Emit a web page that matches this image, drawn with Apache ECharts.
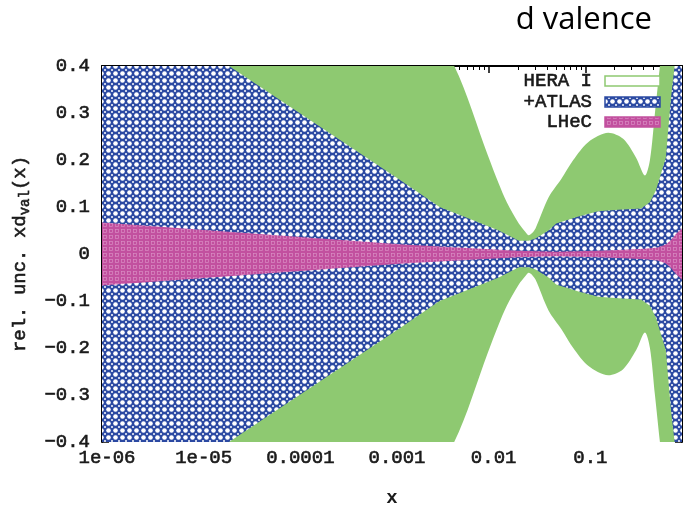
<!DOCTYPE html>
<html>
<head>
<meta charset="utf-8">
<script src="https://cdn.jsdelivr.net/npm/echarts@6/dist/echarts.min.js"></script>
<style>
  html, body { margin: 0; padding: 0; background: #fff; }
  #chart { width: 685px; height: 513px; }
</style>
</head>
<body>
<div id="chart"></div>
<script>
// Relative uncertainty of x*d_val(x): half-width of each error band versus x.
const heraX   = [1e-6, 1e-3, 4.4e-3, 0.0098, 0.0127, 0.0154, 0.0205, 0.024, 0.026, 0.028, 0.0306, 0.0416, 0.0566, 0.075, 0.107, 0.173, 0.246, 0.335, 0.414, 0.466, 0.525, 0.591, 0.681, 1.0];
const heraUnc = [1.6,  0.62, 0.40,   0.21,   0.15,   0.11,   0.065,  0.047, 0.040, 0.044, 0.055,  0.12,   0.16,   0.20,  0.238, 0.258, 0.245, 0.205, 0.167, 0.20,  0.30,  0.40,  0.52,  0.9];

const atlasX   = [1e-6, 1.2e-3, 3.1e-3, 6.7e-3, 0.0127, 0.0205, 0.026, 0.0306, 0.0416, 0.05,  0.085, 0.136, 0.219, 0.377, 0.466, 0.537, 0.681, 0.767, 0.86, 1.0];
const atlasUnc = [0.58, 0.158,  0.10,   0.073,  0.05,   0.028,  0.028, 0.033,  0.05,   0.065, 0.08,  0.091, 0.094, 0.097, 0.11,  0.135, 0.205, 0.33,  0.42, 0.7];

const lhecX   = [1e-6,  1.2e-3, 3.1e-3, 0.02,  0.05,  0.136, 0.25,  0.41,  0.56,  0.68,  0.77,  0.86,  1.0];
const lhecUnc = [0.067, 0.021,  0.016,  0.007, 0.005, 0.007, 0.009, 0.011, 0.014, 0.02,  0.03,  0.042, 0.055];

// Axis tick labels
const xTickLabels = ['1e-06', '1e-05', '0.0001', '0.001', '0.01', '0.1', ''];
const yTickLabels = ['\u22120.4', '\u22120.3', '\u22120.2', '\u22120.1', '0', '0.1', '0.2', '0.3', '0.4'];
const xMinorTicks = [];
for (let e = -6; e < 0; e++) {
  for (let m = 2; m <= 9; m++) xMinorTicks.push(m * Math.pow(10, e));
}

const legendNames = ['HERA I', '+ATLAS', 'LHeC'];

// Fill textures
function makeTile(size, draw) {
  const c = document.createElement('canvas');
  c.width = c.height = size;
  draw(c.getContext('2d'), size);
  return c;
}
const GREEN = '#8ec971';
const BLUE = '#2b49a2';
const PINK = '#c2509f';
const atlasTile = makeTile(7, (g, s) => {
  g.fillStyle = BLUE; g.fillRect(0, 0, s, s);
  g.fillStyle = '#ffffff';
  g.beginPath(); g.arc(3.5, 3.5, 2.3, 0, Math.PI * 2); g.fill();
  [[0, 0], [s, 0], [0, s], [s, s]].forEach(([cx, cy]) => {
    g.beginPath(); g.arc(cx, cy, 1.0, 0, Math.PI * 2); g.fill();
  });
});
const lhecTile = makeTile(6, (g, s) => {
  g.fillStyle = PINK; g.fillRect(0, 0, s, s);
  g.strokeStyle = '#d98cc4'; g.lineWidth = 0.7;
  g.strokeRect(1.5, 1.5, 3, 3);
});
const atlasFill = { image: atlasTile, repeat: 'repeat' };
const lhecFill = { image: lhecTile, repeat: 'repeat' };

// Band = upper edge (+u) and lower edge (-u), each filled towards zero
function band(name, xs, us, fill, smooth) {
  const common = {
    type: 'line', symbol: 'none', silent: true, xAxisIndex: 0, yAxisIndex: 0,
    smooth: smooth, smoothMonotone: 'none',
    lineStyle: { width: 0, opacity: 0 },
    areaStyle: { color: fill, opacity: 1, origin: 'auto' }
  };
  return [
    Object.assign({ name: name, data: xs.map((x, i) => [x, us[i]]) }, common),
    Object.assign({ name: name + ' ', data: xs.map((x, i) => [x, -us[i]]) }, common)
  ];
}

const FONT = '"Liberation Mono", "DejaVu Sans Mono", monospace';
const TXT = '#1a1a1a';
const textWeight = { fontWeight: 'normal', textBorderColor: TXT, textBorderWidth: 0.6 };

const xBase = { type: 'log', logBase: 10, min: 1e-6, max: 1, gridIndex: 0, splitLine: { show: false } };

const chart = echarts.init(document.getElementById('chart'), null, { renderer: 'canvas' });
chart.setOption({
  animation: false,
  backgroundColor: '#ffffff',
  title: {
    text: 'd valence', right: 28, top: 0,
    textStyle: { fontFamily: '"Open Sans", "Noto Sans", sans-serif', fontSize: 31, fontWeight: 'normal', color: '#000' }
  },
  grid: { left: 101, right: 1, top: 66, bottom: 63, containLabel: false },
  xAxis: [
    Object.assign({}, xBase, {
      position: 'bottom',
      name: 'x', nameLocation: 'middle', nameGap: 47,
      nameTextStyle: { fontFamily: FONT, fontSize: 19, fontWeight: 'bold', color: TXT },
      axisLine: { show: true, lineStyle: { color: '#000', width: 2 } },
      axisTick: { show: true, inside: true, length: 7, lineStyle: { color: '#000', width: 1.5 } },
      axisLabel: Object.assign({
        show: true, margin: 6, fontFamily: FONT, fontSize: 19, color: TXT, padding: [0, 0, 0, 10],
        formatter: v => xTickLabels[Math.round(Math.log10(v)) + 6] || ''
      }, textWeight)
    }),
    Object.assign({}, xBase, {
      position: 'bottom',
      axisLine: { show: false },
      axisTick: { show: true, inside: true, length: 4, customValues: xMinorTicks, lineStyle: { color: '#000', width: 1 } },
      axisLabel: { show: false }
    }),
    Object.assign({}, xBase, {
      position: 'top',
      axisLine: { show: true, lineStyle: { color: '#000', width: 2 } },
      axisTick: { show: true, inside: true, length: 7, lineStyle: { color: '#000', width: 1.5 } },
      axisLabel: { show: false }
    }),
    Object.assign({}, xBase, {
      position: 'top',
      axisLine: { show: false },
      axisTick: { show: true, inside: true, length: 4, customValues: xMinorTicks, lineStyle: { color: '#000', width: 1 } },
      axisLabel: { show: false }
    })
  ],
  yAxis: [
    {
      type: 'value', min: -0.4, max: 0.4, interval: 0.1, position: 'left',
      name: '{a|rel. unc. xd}{s|val}{a|(x)}', nameLocation: 'middle', nameRotate: 90, nameGap: 70,
      nameTextStyle: {
        color: TXT,
        rich: {
          a: Object.assign({ fontFamily: FONT, fontSize: 19, color: TXT, lineHeight: 24 }, textWeight),
          s: Object.assign({ fontFamily: FONT, fontSize: 14, color: TXT, verticalAlign: 'bottom', lineHeight: 24, padding: [10, 0, 0, 0] }, textWeight)
        }
      },
      splitLine: { show: false },
      axisLine: { show: true, lineStyle: { color: '#000', width: 2 } },
      axisTick: { show: true, inside: true, length: 7, lineStyle: { color: '#000', width: 1.5 } },
      minorTick: { show: true, splitNumber: 2, length: 4, lineStyle: { color: '#000', width: 1 } },
      axisLabel: Object.assign({
        show: true, margin: 12, fontFamily: FONT, fontSize: 19, color: TXT,
        formatter: v => yTickLabels[Math.round(v * 10) + 4]
      }, textWeight)
    },
    {
      type: 'value', min: -0.4, max: 0.4, interval: 0.1, position: 'right',
      splitLine: { show: false },
      axisLine: { show: true, lineStyle: { color: '#000', width: 2 } },
      axisTick: { show: true, inside: true, length: 7, lineStyle: { color: '#000', width: 1.5 } },
      minorTick: { show: true, splitNumber: 2, length: 4, lineStyle: { color: '#000', width: 1 } },
      axisLabel: { show: false }
    }
  ],
  series: [].concat(
    band('HERA I', heraX, heraUnc, GREEN, 0.3),
    band('+ATLAS', atlasX, atlasUnc, atlasFill, false),
    band('LHeC', lhecX, lhecUnc, lhecFill, false)
  ),
  graphic: [
    { type: 'text', x: 592, y: 81, z: 100, style: { text: legendNames[0], font: '19px ' + FONT, fill: TXT, stroke: TXT, lineWidth: 0.6, align: 'right', verticalAlign: 'middle' } },
    { type: 'text', x: 592, y: 102, z: 100, style: { text: legendNames[1], font: '19px ' + FONT, fill: TXT, stroke: TXT, lineWidth: 0.6, align: 'right', verticalAlign: 'middle' } },
    { type: 'text', x: 592, y: 122, z: 100, style: { text: legendNames[2], font: '19px ' + FONT, fill: TXT, stroke: TXT, lineWidth: 0.6, align: 'right', verticalAlign: 'middle' } },
    { type: 'rect', z: 100, shape: { x: 605, y: 76, width: 55, height: 10 }, style: { fill: '#fff', stroke: GREEN, lineWidth: 1.5 } },
    { type: 'rect', z: 100, shape: { x: 605, y: 97, width: 55, height: 10 }, style: { fill: atlasFill, stroke: BLUE, lineWidth: 1.5 } },
    { type: 'rect', z: 100, shape: { x: 605, y: 117, width: 55, height: 10 }, style: { fill: lhecFill, stroke: PINK, lineWidth: 1.5 } }
  ]
});
</script>
</body>
</html>
